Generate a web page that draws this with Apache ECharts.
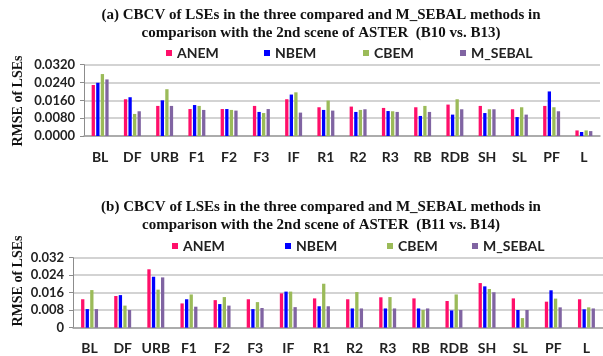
<!DOCTYPE html>
<html>
<head>
<meta charset="utf-8">
<script src="https://cdn.jsdelivr.net/npm/echarts@6/dist/echarts.min.js"></script>
<style>
html,body{margin:0;padding:0;background:#fff;}
#chart{width:603px;height:356px;}
</style>
</head>
<body>
<div id="chart"></div>
<script>
var categories = ['BL','DF','URB','F1','F2','F3','IF','R1','R2','R3','RB','RDB','SH','SL','PF','L'];
var seriesNames = ['ANEM','NBEM','CBEM','M_SEBAL'];

var topTicks = [0, 0.008, 0.016, 0.024, 0.032];
var bottomTicks = [0, 0.008, 0.016, 0.024, 0.032];

var topANEM   = [0.0229,0.0165,0.0135,0.0121,0.0121,0.0135,0.0165,0.0129,0.0132,0.0126,0.0129,0.0141,0.0135,0.0120,0.0135,0.0025];
var topNBEM   = [0.0239,0.0174,0.0160,0.0139,0.0121,0.0108,0.0186,0.0117,0.0108,0.0112,0.0090,0.0096,0.0103,0.0085,0.0200,0.0018];
var topCBEM   = [0.0278,0.0099,0.0210,0.0135,0.0117,0.0103,0.0196,0.0159,0.0117,0.0111,0.0135,0.0165,0.0120,0.0129,0.0129,0.0025];
var topMSEBAL = [0.0254,0.0111,0.0135,0.0117,0.0114,0.0121,0.0105,0.0114,0.0120,0.0108,0.0108,0.0120,0.0120,0.0096,0.0111,0.0022];

var botANEM   = [0.0130,0.0145,0.0267,0.0111,0.0126,0.0130,0.0157,0.0134,0.0130,0.0139,0.0134,0.0122,0.0204,0.0134,0.0119,0.0130];
var botNBEM   = [0.0085,0.0149,0.0233,0.0130,0.0108,0.0085,0.0165,0.0098,0.0088,0.0088,0.0088,0.0079,0.0189,0.0081,0.0171,0.0084];
var botCBEM   = [0.0172,0.0101,0.0174,0.0152,0.0140,0.0117,0.0165,0.0201,0.0163,0.0140,0.0081,0.0152,0.0177,0.0044,0.0133,0.0093];
var botMSEBAL = [0.0085,0.0081,0.0230,0.0096,0.0101,0.0090,0.0094,0.0098,0.0088,0.0088,0.0088,0.0081,0.0162,0.0081,0.0093,0.0088];

var topTitle = '(a) CBCV of LSEs in the three compared and M_SEBAL methods in\ncomparison with the 2nd scene of ASTER  (B10 vs. B13)';
var botTitle = '(b) CBCV of LSEs in the three compared and M_SEBAL methods in\ncomparison with the 2nd scene of ASTER  (B11 vs. B14)';
var yName = 'RMSE of LSEs';

var colors = ['#ff0f6a','#0000ff','#9bbb59','#8064a2'];

var sansFont = 'Lato';
var serifFont = '"Liberation Serif", "Times New Roman", serif';

var chart = echarts.init(document.getElementById('chart'), null, {renderer:'canvas'});

function mkLegend(name, left, top){
  return {
    data:[name], left:left, top:top, orient:'horizontal',
    icon:'rect', itemWidth:6, itemHeight:6, padding:0,
    selectedMode:false,
    textStyle:{fontFamily:sansFont, fontWeight:'bold', fontSize:14, color:'#222', padding:[0,0,0,0]}
  };
}
var topLegendX = [166, 264, 363, 460];
var botLegendX = [172, 285, 387, 472];
var legends = [];
seriesNames.forEach(function(n,i){ legends.push(mkLegend(n, topLegendX[i], 46)); });
seriesNames.forEach(function(n,i){ legends.push(mkLegend(n, botLegendX[i], 239)); });

function mkY(gridIndex, ticks, fmt){
  return {
    type:'value', gridIndex:gridIndex, min:ticks[0], max:ticks[ticks.length-1], interval:ticks[1]-ticks[0],
    axisLine:{show:true, lineStyle:{color:'#8c8c8c', width:1}},
    axisTick:{show:true, inside:false, length:4, lineStyle:{color:'#8c8c8c'}},
    splitLine:{show:true, lineStyle:{color:'#c4c4c4', width:1.5}},
    axisLabel:{fontFamily:sansFont, fontWeight:'bold', fontSize:13, color:'#222', margin:9, formatter:fmt}
  };
}
function mkX(gridIndex){
  return {
    type:'category', gridIndex:gridIndex, data:categories,
    axisLine:{show:true, lineStyle:{color:'#a0a0a0', width:1.5}},
    axisTick:{show:false},
    axisLabel:{fontFamily:sansFont, fontWeight:'bold', fontSize:14, color:'#222', margin:14, interval:0}
  };
}

var topData = [topANEM, topNBEM, topCBEM, topMSEBAL];
var botData = [botANEM, botNBEM, botCBEM, botMSEBAL];
var series = [];
seriesNames.forEach(function(n,i){
  series.push({type:'bar', name:n, xAxisIndex:0, yAxisIndex:0, data:topData[i], barWidth:3.3, barGap:'38%',
    itemStyle:{color:colors[i]}, emphasis:{disabled:true}});
});
seriesNames.forEach(function(n,i){
  series.push({type:'bar', name:n, xAxisIndex:1, yAxisIndex:1, data:botData[i], barWidth:3.3, barGap:'38%',
    itemStyle:{color:colors[i]}, emphasis:{disabled:true}});
});

var option = {
  animation:false,
  backgroundColor:'#fff',
  color:colors,
  title:[
    {text:topTitle, left:321, top:6, textAlign:'center', padding:0,
     textStyle:{fontFamily:serifFont, fontWeight:'bold', fontSize:15, lineHeight:18, color:'#111'}},
    {text:botTitle, left:321, top:198, textAlign:'center', padding:0,
     textStyle:{fontFamily:serifFont, fontWeight:'bold', fontSize:15, lineHeight:18, color:'#111'}}
  ],
  legend:legends,
  grid:[
    {left:84, right:3, top:64.7, height:71.3},
    {left:73, right:0, top:257.7, height:70}
  ],
  xAxis:[mkX(0), mkX(1)],
  yAxis:[
    mkY(0, topTicks, function(v){return v.toFixed(4);}),
    mkY(1, bottomTicks, function(v){return v===0?'0':v.toFixed(3);})
  ],
  graphic:[
    {type:'text', x:18.5, y:101, rotation:Math.PI/2,
     style:{text:yName, font:'bold 14px '+serifFont, fill:'#111', align:'center', verticalAlign:'middle'}},
    {type:'text', x:18.5, y:281, rotation:Math.PI/2,
     style:{text:yName, font:'bold 14px '+serifFont, fill:'#111', align:'center', verticalAlign:'middle'}}
  ],
  series:series
};
chart.setOption(option);
</script>
</body>
</html>
